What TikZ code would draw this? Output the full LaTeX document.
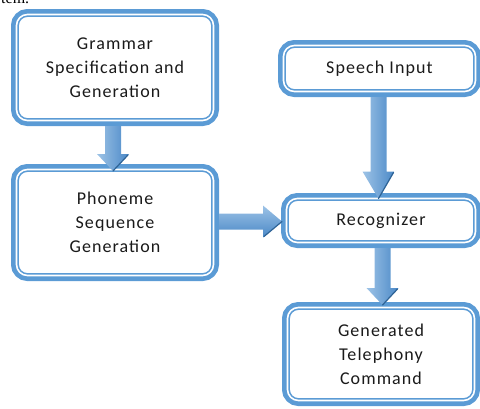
\documentclass[tikz,border=0pt]{standalone}
\usepackage{fontspec}
\setmainfont{Carlito}[LetterSpace=6]
\newfontfamily\serifbits{Liberation Serif}
\usetikzlibrary{calc}

\definecolor{boxblue}{HTML}{5B9BD5}
\definecolor{arrowlight}{HTML}{9DC3E6}
\definecolor{arrowmid}{HTML}{5B9BD5}
\definecolor{arrowdark}{HTML}{4A88C7}
\definecolor{tipedgeblue}{HTML}{2E6396}
\definecolor{textgray}{HTML}{1A1A1A}

\tikzset{
  procbox/.style={rectangle, rounded corners=11pt, fill=white,
    draw=boxblue, line width=1.6pt, double=white, double distance=1.6pt,
    outer sep=0pt, inner sep=0pt, align=center, text=textgray,
    font=\fontsize{18}{24}\selectfont,
    preaction={draw=boxblue, line width=11pt}},
  fatv/.style={left color=arrowlight, middle color=arrowmid, right color=arrowdark},
  fath/.style={top color=arrowlight, middle color=arrowmid, bottom color=arrowdark},
  tipedge/.style={draw=tipedgeblue, line width=1.2pt, line cap=round}
}

% vertical block arrow: start, tip, head length
\newcommand{\drawvfat}[3]{%
  \path[fatv] let \p1=(#1), \p2=(#2) in
    (\x1-8pt,\y1) -- (\x1+8pt,\y1) -- (\x1+8pt,\y2+#3) -- (\x1+16pt,\y2+#3)
    -- (\x1,\y2) -- (\x1-16pt,\y2+#3) -- (\x1-8pt,\y2+#3) -- cycle;
  \draw[tipedge] let \p1=(#1), \p2=(#2) in
    (\x1+15pt,\y2+#3-1pt) -- (\x1,\y2);
}
% horizontal block arrow: start, tip, head length
\newcommand{\drawhfat}[3]{%
  \path[fath] let \p1=(#1), \p2=(#2) in
    (\x1,\y2+8pt) -- (\x1,\y2-8pt) -- (\x2-#3,\y2-8pt) -- (\x2-#3,\y2-16pt)
    -- (\x2,\y2) -- (\x2-#3,\y2+16pt) -- (\x2-#3,\y2+8pt) -- cycle;
  \draw[tipedge] let \p1=(#1), \p2=(#2) in
    (\x2-#3+1pt,\y2-15pt) -- (\x2,\y2);
}

\begin{document}
\begin{tikzpicture}[x=1pt, y=-1pt]
  \useasboundingbox (0,0) rectangle (480,408);

  % tail of the caption line above the figure
  \node[font=\serifbits\fontsize{16}{18}\selectfont, anchor=base west,
        inner sep=0pt, text=black] (caption) at (1,3) {tem.};

  % process boxes
  \node[procbox, minimum width=197pt, minimum height=106pt] (gram) at (115,67.5)
    {Grammar\\Specification and\\Generation};
  \node[procbox, minimum width=197pt, minimum height=106pt] (phon) at (115,222.5)
    {Phoneme\\Sequence\\Generation};
  \node[procbox, minimum width=192pt, minimum height=46pt] (speech) at (379.5,68.5)
    {Speech Input};
  \node[procbox, minimum width=189pt, minimum height=44pt] (recog) at (381,220.5)
    {Recognizer};
  \node[procbox, minimum width=187pt, minimum height=93pt] (cmd) at (381,354)
    {Generated\\Telephony\\Command};

  % arrow end points on the box borders
  \coordinate (a1s) at ([xshift=-2pt,yshift=-5.5pt]gram.south);
  \coordinate (a1t) at ([xshift=-2pt,yshift=-1.5pt]phon.north);
  \coordinate (a2s) at ([xshift=5.5pt]phon.east);
  \coordinate (a2t) at ([xshift=-4.5pt,yshift=-1pt]recog.west);
  \coordinate (a3s) at ([xshift=-1pt,yshift=-5.5pt]speech.south);
  \coordinate (a3t) at ([xshift=-2.5pt]recog.north);
  \coordinate (a4s) at ([xshift=1.5pt,yshift=-5.5pt]recog.south);
  \coordinate (a4t) at ([xshift=1.5pt,yshift=2.5pt]cmd.north);

  % block arrows between the boxes
  \drawvfat{a1s}{a1t}{17pt}
  \drawhfat{a2s}{a2t}{19pt}
  \drawvfat{a3s}{a3t}{27pt}
  \drawvfat{a4s}{a4t}{17pt}
\end{tikzpicture}
\end{document}
